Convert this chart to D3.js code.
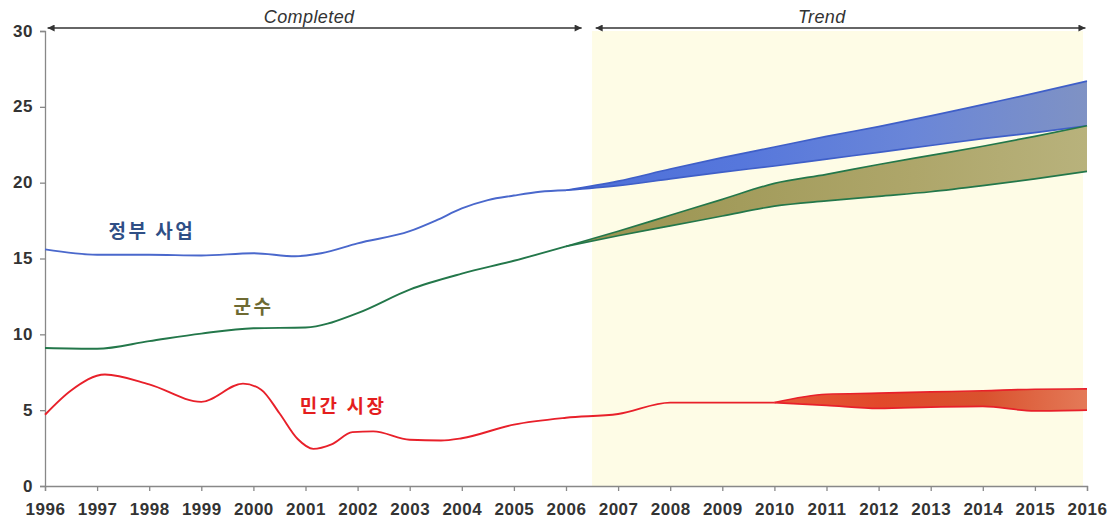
<!DOCTYPE html>
<html>
<head>
<meta charset="utf-8">
<script src="https://cdn.jsdelivr.net/npm/d3@7"></script>
<style>
  body { margin: 0; background: #fff; }
  svg { display: block; }
  .tick text { font-family: "Liberation Sans", Arial, sans-serif; font-weight: bold; fill: #333; }
</style>
</head>
<body>
<script>
'use strict';

// year ticks and value ticks
const years = d3.range(1996, 2017);
const valueTicks = [0, 5, 10, 15, 20, 25, 30];

// completed part: [year, value]
const govHistory = [[1996, 15.6], [1997, 15.25], [1998, 15.25], [1999, 15.2], [2000, 15.35], [2000.8, 15.15],
  [2001.3, 15.35], [2002, 16.0], [2003, 16.8], [2003.5, 17.5], [2004, 18.3], [2004.5, 18.85],
  [2005, 19.15], [2005.5, 19.4], [2006, 19.5]];
const milHistory = [[1996, 9.1], [1997, 9.05], [1998, 9.55], [1999, 10.05], [2000, 10.4], [2001, 10.45],
  [2002, 11.4], [2003, 12.95], [2004, 14.0], [2005, 14.85], [2006, 15.8]];
const civHistory = [[1996, 4.7], [1996.5, 6.3], [1997.15, 7.35], [1998, 6.7], [1999, 5.55], [1999.8, 6.75],
  [2000.15, 6.35], [2000.5, 4.8], [2000.85, 3.1], [2001.15, 2.45], [2001.5, 2.75], [2001.9, 3.55],
  [2002.3, 3.6], [2003, 3.05], [2003.6, 3.0], [2004, 3.15], [2005, 4.05], [2006, 4.5], [2007, 4.75],
  [2008, 5.5], [2009, 5.5], [2010, 5.5]];

// trend bands (upper / lower)
const govYears = d3.range(2006, 2017);
const govUpper = [19.5, 20.1, 20.9, 21.65, 22.35, 23.05, 23.7, 24.4, 25.15, 25.9, 26.7];
const govLower = [19.5, 19.8, 20.25, 20.7, 21.1, 21.55, 22.0, 22.45, 22.9, 23.3, 23.75];
const milYears = d3.range(2006, 2017);
const milUpper = [15.8, 16.8, 17.85, 18.9, 19.95, 20.55, 21.2, 21.8, 22.4, 23.05, 23.75];
const milLower = [15.8, 16.5, 17.15, 17.8, 18.45, 18.8, 19.1, 19.4, 19.8, 20.25, 20.75];
const civYears = d3.range(2010, 2017);
const civUpper = [5.5, 6.05, 6.12, 6.2, 6.28, 6.38, 6.4];
const civLower = [5.5, 5.32, 5.12, 5.2, 5.25, 4.95, 5.0];

const trendStart = 2006.5;
const trendEnd = 2016;

const width = 1118, height = 522;

const svg = d3.select('body').append('svg')
  .attr('width', width)
  .attr('height', height);

const xScale = d3.scaleLinear().domain([1996, 2016]).range([45, 1087]);
const yScale = d3.scaleLinear().domain([0, 30]).range([486, 31]);

const defs = svg.append('defs');

// arrow marker
defs.append('marker')
  .attr('id', 'arrow')
  .attr('viewBox', '0 0 10 10')
  .attr('refX', 10).attr('refY', 5)
  .attr('markerWidth', 11).attr('markerHeight', 7)
  .attr('markerUnits', 'userSpaceOnUse')
  .attr('orient', 'auto-start-reverse')
  .append('path')
  .attr('d', 'M0,0 L10,5 L0,10 Z')
  .attr('fill', '#333');

function gradient(id, stops) {
  let g = defs.append('linearGradient')
    .attr('id', id)
    .attr('x1', '0%').attr('x2', '100%')
    .attr('y1', '0%').attr('y2', '0%');
  stops.forEach((c, i) => {
    g.append('stop')
      .attr('offset', (i / (stops.length - 1) * 100) + '%')
      .attr('stop-color', c);
  });
}
gradient('gBlue', ['#4d6fd8', '#5677dc', '#6a86d8', '#7f92c4']);
gradient('gGreen', ['#98924e', '#a39c5c', '#aea66a', '#b8b27c']);
gradient('gRed', ['#e65a38', '#e2482a', '#d9522e', '#e47a58']);

// trend background
svg.append('rect')
  .attr('x', xScale(trendStart))
  .attr('y', yScale(30))
  .attr('width', xScale(trendEnd) - xScale(trendStart) - 4)
  .attr('height', yScale(0) - yScale(30))
  .attr('fill', '#fefce6');

// axes
const xAxis = d3.axisBottom(xScale)
  .tickValues(years)
  .tickFormat(d3.format('d'))
  .tickSize(5)
  .tickPadding(13);
const gx = svg.append('g')
  .attr('transform', 'translate(0,' + yScale(0) + ')')
  .call(xAxis);

const yAxis = d3.axisLeft(yScale)
  .tickValues(valueTicks)
  .tickSize(5)
  .tickPadding(7);
const gy = svg.append('g')
  .attr('transform', 'translate(' + xScale(1996) + ',0)')
  .call(yAxis);

[gx, gy].forEach(g => {
  g.select('.domain').attr('stroke', '#888').attr('stroke-width', 1.3);
  g.selectAll('.tick line').attr('stroke', '#888').attr('stroke-width', 1.3);
  g.selectAll('.tick text').style('font-size', '17px').style('letter-spacing', '0.5px');
});
gx.selectAll('.tick text').attr('dy', '0.62em');
gy.selectAll('.tick text').attr('dy', '0.3em');

// bands
function drawBand(yrs, up, lo, fill, stroke) {
  let rows = yrs.map((y, i) => ({ year: y, up: up[i], lo: lo[i] }));
  let area = d3.area()
    .x(d => xScale(d.year))
    .y0(d => yScale(d.lo))
    .y1(d => yScale(d.up))
    .curve(d3.curveMonotoneX);
  svg.append('path')
    .datum(rows)
    .attr('d', area)
    .attr('fill', fill);
  ['up', 'lo'].forEach(k => {
    let line = d3.line()
      .x(d => xScale(d.year))
      .y(d => yScale(d[k]))
      .curve(d3.curveMonotoneX);
    svg.append('path')
      .datum(rows)
      .attr('d', line)
      .attr('fill', 'none')
      .attr('stroke', stroke)
      .attr('stroke-width', 1.7);
  });
}

function drawLine(points, stroke) {
  let line = d3.line()
    .x(d => xScale(d[0]))
    .y(d => yScale(d[1]))
    .curve(d3.curveMonotoneX);
  svg.append('path')
    .datum(points)
    .attr('d', line)
    .attr('fill', 'none')
    .attr('stroke', stroke)
    .attr('stroke-width', 1.9);
}

drawBand(govYears, govUpper, govLower, 'url(#gBlue)', '#3f5fc8');
drawBand(milYears, milUpper, milLower, 'url(#gGreen)', '#23774a');
drawBand(civYears, civUpper, civLower, 'url(#gRed)', '#e8202a');

drawLine(govHistory, '#4a68cc');
drawLine(milHistory, '#23774a');
drawLine(civHistory, '#e8202a');

// period arrows
const arrowY = 28;
function periodArrow(from, to, labelYear, label) {
  svg.append('line')
    .attr('x1', xScale(from)).attr('x2', xScale(to))
    .attr('y1', arrowY).attr('y2', arrowY)
    .attr('stroke', '#333')
    .attr('stroke-width', 1.5)
    .attr('marker-start', 'url(#arrow)')
    .attr('marker-end', 'url(#arrow)');
  svg.append('text')
    .attr('x', xScale(labelYear))
    .attr('y', 23)
    .attr('text-anchor', 'middle')
    .style('font-family', '"Liberation Sans", Arial, sans-serif')
    .style('font-style', 'italic')
    .style('font-size', '18px')
    .style('letter-spacing', '0.4px')
    .attr('fill', '#333')
    .text(label);
}
periodArrow(1996.05, 2006.3, 2001.07, 'Completed');
periodArrow(2006.57, 2015.97, 2010.91, 'Trend');

// series labels
const labelFont = '"Noto Sans CJK KR", "Noto Sans", sans-serif';
function seriesLabel(year, value, text, color) {
  svg.append('text')
    .attr('x', xScale(year))
    .attr('y', yScale(value))
    .attr('text-anchor', 'middle')
    .attr('dy', '0.35em')
    .style('font-family', labelFont)
    .style('font-weight', 'bold')
    .style('font-size', '19px')
    .style('letter-spacing', '2.5px')
    .attr('fill', color)
    .text(text);
}
seriesLabel(1998.05, 16.8, '정부 사업', '#2f4f86');
seriesLabel(2000, 11.8, '군수', '#6e6a32');
seriesLabel(2001.72, 5.25, '민간 시장', '#e41e1e');
</script>
</body>
</html>
